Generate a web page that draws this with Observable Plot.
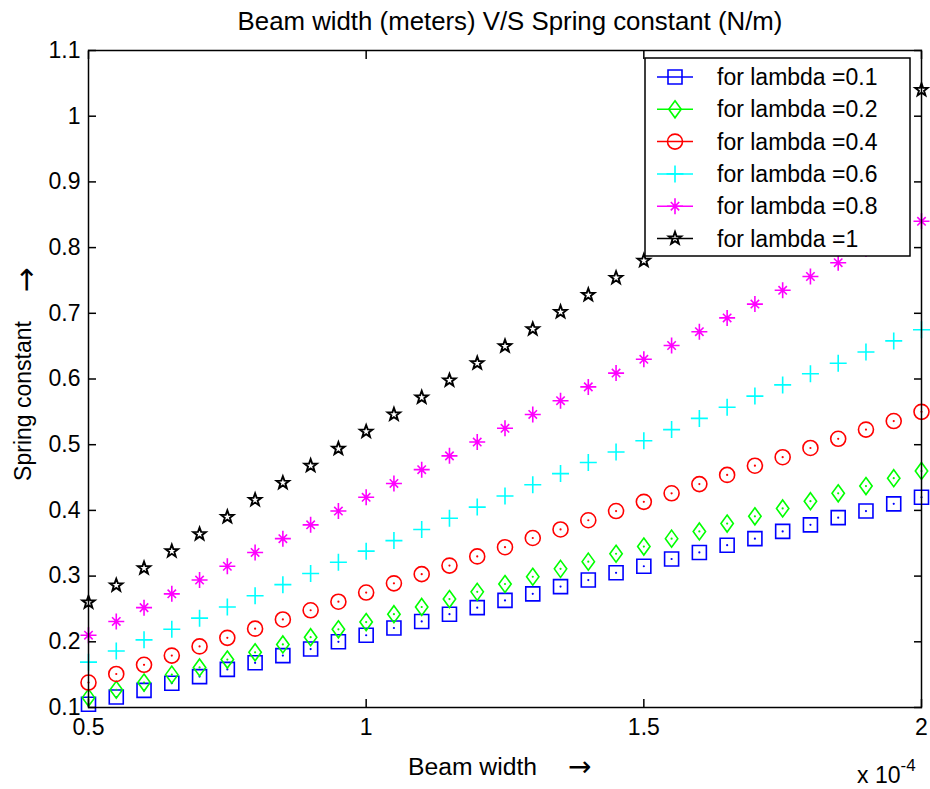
<!DOCTYPE html>
<html><head><meta charset="utf-8">
<script src="https://cdn.jsdelivr.net/npm/d3@7"></script>
<script src="https://cdn.jsdelivr.net/npm/@observablehq/plot@0.6"></script>
<style>
body{margin:0;background:#fff;}
#wrap{position:relative;width:930px;height:789px;font-family:"Liberation Sans",Arial,sans-serif;}
#wrap > svg{position:absolute;left:0;top:0;}
</style></head><body><div id="wrap"></div>
<script>
// ---- data (beam width in units of 1e-4 m) ----
const beamWidth = [0.5,0.55,0.6,0.65,0.7,0.75,0.8,0.85,0.9,0.95,1.0,1.05,1.1,1.15,1.2,1.25,1.3,1.35,1.4,1.45,1.5,1.55,1.6,1.65,1.7,1.75,1.8,1.85,1.9,1.95,2.0];
const lambda01 = [0.105,0.116,0.126,0.137,0.147,0.158,0.168,0.179,0.189,0.200,0.210,0.221,0.231,0.242,0.252,0.263,0.273,0.284,0.294,0.305,0.315,0.326,0.336,0.347,0.357,0.368,0.378,0.389,0.399,0.410,0.420];
const lambda02 = [0.115,0.127,0.138,0.150,0.161,0.173,0.184,0.196,0.207,0.219,0.230,0.242,0.253,0.265,0.276,0.288,0.299,0.311,0.322,0.334,0.345,0.357,0.368,0.380,0.391,0.403,0.414,0.426,0.437,0.449,0.460];
const lambda04 = [0.138,0.151,0.165,0.179,0.193,0.206,0.220,0.234,0.248,0.261,0.275,0.289,0.303,0.316,0.330,0.344,0.358,0.371,0.385,0.399,0.413,0.426,0.440,0.454,0.468,0.481,0.495,0.509,0.523,0.536,0.550];
const lambda06 = [0.169,0.186,0.203,0.219,0.236,0.253,0.270,0.287,0.304,0.321,0.338,0.354,0.371,0.388,0.405,0.422,0.439,0.456,0.473,0.489,0.506,0.523,0.540,0.557,0.574,0.591,0.608,0.624,0.641,0.658,0.675];
const lambda08 = [0.210,0.231,0.252,0.273,0.294,0.315,0.336,0.357,0.378,0.399,0.420,0.441,0.462,0.483,0.504,0.525,0.546,0.567,0.588,0.609,0.630,0.651,0.672,0.693,0.714,0.735,0.756,0.777,0.798,0.819,0.840];
const lambda10 = [0.260,0.286,0.312,0.338,0.364,0.390,0.416,0.442,0.468,0.494,0.520,0.546,0.572,0.598,0.624,0.650,0.676,0.702,0.728,0.754,0.780,0.806,0.832,0.858,0.884,0.910,0.936,0.962,0.988,1.014,1.040];
const seriesNames = ["for lambda =0.1","for lambda =0.2","for lambda =0.4","for lambda =0.6","for lambda =0.8","for lambda =1"];
const seriesColors = ["#0000ff","#00ff00","#ff0000","#00ffff","#ff00ff","#000000"];
const xTicks = [0.5,1,1.5,2];
const yTicks = [0.1,0.2,0.3,0.4,0.5,0.6,0.7,0.8,0.9,1.0,1.1];
const titleText = "Beam width (meters) V/S Spring constant (N/m)";
const xLabel = "Beam width";
const yLabel = "Spring constant";
const arrow = "\u2192";

// ---- MATLAB-like marker shapes ----
const symSquare = {draw(c){c.moveTo(-7,-7);c.lineTo(7,-7);c.lineTo(7,7);c.lineTo(-7,7);c.closePath();}};
const symDiamond = {draw(c){c.moveTo(0,-8.5);c.lineTo(6.2,0);c.lineTo(0,8.5);c.lineTo(-6.2,0);c.closePath();}};
const symCircle = {draw(c){c.moveTo(7.5,0);c.arc(0,0,7.5,0,2*Math.PI);c.closePath();}};
const symPlus = {draw(c){c.moveTo(-8.5,0);c.lineTo(8.5,0);c.moveTo(0,-8.5);c.lineTo(0,8.5);}};
const symAst = {draw(c){c.moveTo(-8,0);c.lineTo(8,0);c.moveTo(0,-8);c.lineTo(0,8);
  const d=4.2;c.moveTo(-d,-d);c.lineTo(d,d);c.moveTo(-d,d);c.lineTo(d,-d);}};
const symStar = {draw(c){for(let i=0;i<10;i++){const a=-Math.PI/2+i*Math.PI/5;const r=i%2?2.7:6.6;
  const px=r*Math.cos(a),py=r*Math.sin(a); if(i===0)c.moveTo(px,py); else c.lineTo(px,py);} c.closePath();}};
const symbols = [symSquare,symDiamond,symCircle,symPlus,symAst,symStar];
const centerDot = [true,true,true,false,true,false];
const markerStroke = [1.6,1.6,1.6,1.6,1.6,1.9];

const seriesValues = [lambda01,lambda02,lambda04,lambda06,lambda08,lambda10];
const tables = seriesValues.map(vals => beamWidth.map((w,i)=>({w, k: vals[i]})));

const marks = [];
tables.forEach((t,i)=>{
  marks.push(Plot.dot(t,{x:"w",y:"k",symbol:symbols[i],stroke:seriesColors[i],fill:"none",strokeWidth:markerStroke[i],r:7}));
  if(centerDot[i]) marks.push(Plot.dot(t,{x:"w",y:"k",r:1.1,fill:seriesColors[i],stroke:"none"}));
});

const fmt = d => String(+(+d).toFixed(1));
const chart = Plot.plot({
  width:930, height:789,
  marginTop:50, marginLeft:88, marginRight:9, marginBottom:82,
  style:{fontFamily:"'Liberation Sans', Arial, sans-serif", fontSize:"23px", color:"#000", background:"transparent"},
  x:{domain:[0.5,2], axis:null, label:null},
  y:{domain:[0.1,1.1], axis:null, label:null},
  marks:[
    ...marks,
    Plot.axisX({anchor:"bottom", ticks:xTicks, tickSize:-8, tickPadding:19, tickFormat:fmt, label:null, strokeWidth:1.5}),
    Plot.axisX({anchor:"top", ticks:xTicks, tickSize:-8, tickFormat:()=>"", label:null, strokeWidth:1.5}),
    Plot.axisY({anchor:"left", ticks:yTicks, tickSize:-8, tickPadding:16, tickFormat:fmt, label:null, strokeWidth:1.5}),
    Plot.axisY({anchor:"right", ticks:yTicks, tickSize:-8, tickFormat:()=>"", label:null, strokeWidth:1.5}),
    Plot.frame({stroke:"#000", strokeWidth:1.5})
  ]
});
const wrap = document.getElementById("wrap");
wrap.appendChild(chart);

// ---- text overlay and legend ----
const ov = d3.select(wrap).append("svg").attr("width",930).attr("height",789)
  .style("font-family","'Liberation Sans', Arial, sans-serif").style("font-size","23px");
ov.append("text").attr("x",510).attr("y",30).attr("text-anchor","middle").style("font-size","25.8px").text(titleText);
ov.append("text").attr("x",408).attr("y",775).style("font-size","24.7px").text(xLabel);
ov.append("text").attr("x",568).attr("y",776).style("font-family","'DejaVu Sans'").style("font-size","28px").text(arrow);
ov.append("text").attr("transform","translate(31,401) rotate(-90)").attr("text-anchor","middle").text(yLabel);
ov.append("text").attr("transform","translate(36,280) rotate(-90)").attr("text-anchor","middle")
  .style("font-family","'DejaVu Sans'").style("font-size","30px").text(arrow);
const sci = ov.append("text").attr("x",857).attr("y",783);
sci.append("tspan").text("x 10");
sci.append("tspan").attr("dy",-12).style("font-size","17px").text("-4");

const lg = ov.append("g").attr("transform","translate(645,58)");
lg.append("rect").attr("width",265).attr("height",198).attr("fill","#fff").attr("stroke","#000").attr("stroke-width",1.5);
seriesNames.forEach((name,i)=>{
  const cy = 19 + i*32.3;
  lg.append("line").attr("x1",12).attr("x2",48).attr("y1",cy).attr("y2",cy).attr("stroke",seriesColors[i]).attr("stroke-width",1.5);
  lg.append("path").attr("d",d3.symbol().type(symbols[i])()).attr("transform",`translate(30,${cy})`)
    .attr("fill","none").attr("stroke",seriesColors[i]).attr("stroke-width",markerStroke[i]);
  lg.append("text").attr("x",72).attr("y",cy+8).text(name);
});
</script></body></html>
